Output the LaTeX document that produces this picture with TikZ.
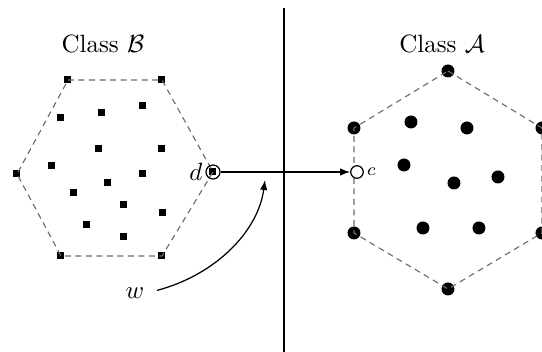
\documentclass[tikz,border=0pt]{standalone}
\usetikzlibrary{arrows.meta}
\begin{document}
\begin{tikzpicture}[x=0.4pt,y=-0.4pt,
  sq/.style={fill=black,inner sep=0pt,minimum size=2.8pt,rectangle},
  bigdot/.style={fill=black,inner sep=0pt,minimum size=5.2pt,circle},
  hull/.style={dashed,gray!85!black,line width=0.45pt,dash pattern=on 2.4pt off 1.8pt},
  conn/.style={line width=0.5pt,-{Latex[length=4pt,width=3pt]}},
  lbl/.style={inner sep=1pt}]
\useasboundingbox (0,0) rectangle (542,352);
\clip (0,0) rectangle (542,352);
% labels
\node[lbl] (lb) at (103,44) {Class $\mathcal{B}$};
\node[lbl] (la) at (442,44) {Class $\mathcal{A}$};
% separator
\coordinate (s1) at (284,8);
\coordinate (s2) at (284,352);
\draw[line width=0.8pt] (s1) -- (s2);
% class B hull
\node[sq] (b1) at (68,80) {};
\node[sq] (b2) at (162,80) {};
\node[sq] (b3) at (213,172) {};
\node[sq] (b4) at (162,256) {};
\node[sq] (b5) at (61,256) {};
\node[sq] (b6) at (17,174) {};
\draw[hull] (b1.center) -- (b2.center) -- (b3.center) -- (b4.center) -- (b5.center) -- (b6.center) -- cycle;
% class B interior
\foreach \p/\n in {{(143,106)}/i1,{(61,118)}/i2,{(102,113)}/i3,{(99,149)}/i4,{(162,149)}/i5,{(52,166)}/i6,{(143,174)}/i7,{(108,183)}/i8,{(74,193)}/i9,{(124,205)}/i10,{(163,213)}/i11,{(87,225)}/i12,{(124,237)}/i13}
  \node[sq] (\n) at \p {};
% d marker
\node[circle,draw,line width=0.5pt,minimum size=5.6pt,inner sep=0pt] (d) at (b3) {};
\node[lbl,anchor=east] (dl) at (d.west) {$d$};
% class A hull
\node[bigdot] (a1) at (448,71) {};
\node[bigdot] (a2) at (542,128) {};
\node[bigdot] (a3) at (542,233) {};
\node[bigdot] (a4) at (448,289) {};
\node[bigdot] (a5) at (354,233) {};
\node[bigdot] (a6) at (354,128) {};
\draw[hull] (a1.center) -- (a2.center) -- (a3.center) -- (a4.center) -- (a5.center) -- (a6.center) -- cycle;
\foreach \p/\n in {{(411,122)}/j1,{(467,128)}/j2,{(404,165)}/j3,{(454,183)}/j4,{(498,177)}/j5,{(423,228)}/j6,{(479,228)}/j7}
  \node[bigdot] (\n) at \p {};
% c marker
\node[circle,draw,fill=white,line width=0.5pt,minimum size=5pt,inner sep=0pt] (c) at (357,172) {};
\node[lbl,anchor=west,font=\scriptsize] (cl) at (c.east) {$c$};
% connectors
\draw[conn] (d) -- (c);
\node[lbl] (w) at (135,293) {$w$};
\coordinate (wt) at (265,180);
\draw[conn,shorten <=4pt] (w.east) .. controls (215,275) and (258,232) .. (wt);
\end{tikzpicture}
\end{document}
